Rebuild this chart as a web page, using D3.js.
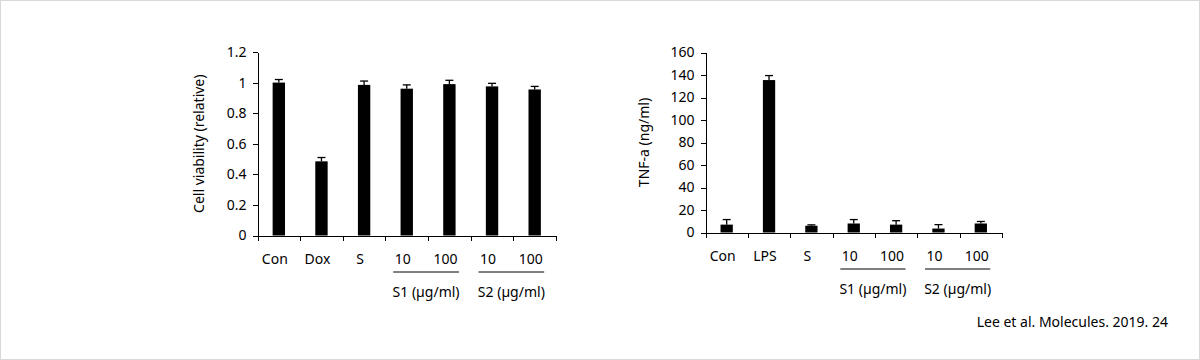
<!DOCTYPE html>
<html><head><meta charset="utf-8">
<script src="https://cdn.jsdelivr.net/npm/d3@7"></script>
<style>
html,body{margin:0;padding:0;background:#fff;}
svg{display:block;}
text{font-family:"Noto Sans",sans-serif;fill:#000;}
</style></head>
<body>
<svg id="c" width="1200" height="360"></svg>
<script>
// ---- data ----
const categories = ["Con","Dox","S","10","100","10","100"];
const viabilityValues = [1.0, 0.485, 0.985, 0.96, 0.99, 0.975, 0.955];
const viabilityErrors = [0.02, 0.025, 0.025, 0.025, 0.025, 0.02, 0.02];
const viabilityTicks = [0, 0.2, 0.4, 0.6, 0.8, 1, 1.2];

const tnfCategories = ["Con","LPS","S","10","100","10","100"];
const tnfValues = [7, 135.5, 6, 8, 7, 3.5, 8];
const tnfErrors = [4.5, 4, 0.8, 3.5, 3.5, 3.5, 1.8];
const tnfTicks = [0, 20, 40, 60, 80, 100, 120, 140, 160];

const groupLabels = ["S1 (µg/ml)", "S2 (µg/ml)"];
const groupMembers = [[3,4],[5,6]];
const citation = "Lee et al. Molecules. 2019. 24";

const svg = d3.select("#c");
svg.append("rect").attr("x",0.5).attr("y",0.5).attr("width",1199).attr("height",359)
  .attr("fill","#fff").attr("stroke","#d9d9d9");

function panel(opt){
  const g = svg.append("g");
  const idx = d3.range(opt.cats.length);
  const x = d3.scaleBand().domain(idx).range([opt.x0, opt.x1]).padding(0);
  const y = d3.scaleLinear().domain([0, opt.ymax]).range([opt.y0, opt.y1]);
  const bw = x.bandwidth();
  const barW = bw*0.29;

  // y axis
  const ya = g.append("g").attr("transform",`translate(${opt.x0},0)`)
    .call(d3.axisLeft(y).tickValues(opt.ticks).tickSize(5).tickPadding(6)
      .tickFormat(d=>String(d)).tickSizeOuter(0));
  ya.selectAll("path,line").attr("stroke","#000").attr("stroke-width",1).attr("shape-rendering","crispEdges");
  ya.selectAll("text").style("font-family","'Noto Sans',sans-serif").style("font-size","14px").attr("fill","#000");

  // x axis with boundary ticks
  const bounds = d3.range(opt.cats.length+1);
  const xb = d3.scaleLinear().domain([0, opt.cats.length]).range([opt.x0, opt.x1]);
  const xa = g.append("g").attr("transform",`translate(0,${opt.y0})`)
    .call(d3.axisBottom(xb).tickValues(bounds).tickSize(5).tickFormat("").tickSizeOuter(0));
  xa.selectAll("path,line").attr("stroke","#000").attr("stroke-width",1).attr("shape-rendering","crispEdges");

  // bars
  g.selectAll("rect.bar").data(opt.vals).join("rect")
    .attr("x",(d,i)=>x(i)+bw/2-barW/2).attr("width",barW)
    .attr("y",d=>y(d)).attr("height",d=>y(0)-y(d)).attr("fill","#000");

  // error bars (upper only)
  const eg = g.append("g").attr("stroke","#000").attr("stroke-width",1.3);
  opt.vals.forEach((v,i)=>{
    const cx = x(i)+bw/2, top = y(v+opt.errs[i]);
    eg.append("line").attr("x1",cx).attr("x2",cx).attr("y1",y(v)).attr("y2",top);
    eg.append("line").attr("x1",cx-4).attr("x2",cx+4).attr("y1",top).attr("y2",top);
  });

  // category labels
  g.selectAll("text.cat").data(opt.cats).join("text")
    .attr("x",(d,i)=>x(i)+bw/2-4).attr("y",opt.y0+28)
    .attr("text-anchor","middle").style("font-size","14px").text(d=>d);

  // group lines and labels
  groupMembers.forEach((m,k)=>{
    const cx = (x(m[0]) + x(m[1])+bw)/2 - 2;
    const half = bw*0.77;
    g.append("line").attr("x1",cx-half).attr("x2",cx+half)
      .attr("y1",opt.y0+36.5).attr("y2",opt.y0+36.5).attr("stroke","#000").attr("stroke-width",1);
    g.append("text").attr("x",cx).attr("y",opt.y0+61).attr("text-anchor","middle")
      .style("font-size","14px").text(groupLabels[k]);
  });

  // y label
  g.append("text").attr("transform",`translate(${opt.labX},${(opt.y0+opt.y1)/2}) rotate(-90)`)
    .attr("text-anchor","middle").attr("dy","0.35em").style("font-size","14px").text(opt.ylabel);
}

panel({cats:categories, vals:viabilityValues, errs:viabilityErrors, ticks:viabilityTicks,
  ymax:1.2, x0:257.5, x1:556, y0:235.5, y1:52, labX:199, ylabel:"Cell viability (relative)"});
panel({cats:tnfCategories, vals:tnfValues, errs:tnfErrors, ticks:tnfTicks,
  ymax:160, x0:705.5, x1:1002, y0:232.5, y1:52.5, labX:644, ylabel:"TNF-a (ng/ml)"});

svg.append("text").attr("x",1168).attr("y",327).attr("text-anchor","end")
  .style("font-size","14px").attr("fill","#333").text(citation);
</script>
</body></html>
